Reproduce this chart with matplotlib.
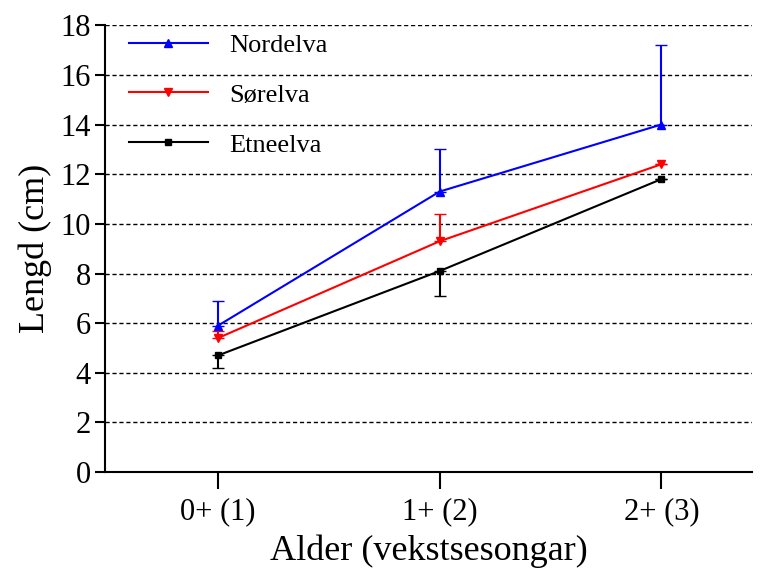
import matplotlib
matplotlib.use('Agg')
import matplotlib.pyplot as plt

plt.rcParams['font.family'] = ['Liberation Serif', 'DejaVu Serif']

ages = ['0+ (1)', '1+ (2)', '2+ (3)']
nordelva = [5.9, 11.3, 14.0]
nordelva_err = [1.0, 1.7, 3.2]
sorelva = [5.4, 9.3, 12.4]
sorelva_err = [0.3, 1.1, 0.0]
etneelva = [4.7, 8.1, 11.8]
etneelva_err = [0.5, 1.0, 0.0]

fig = plt.figure(figsize=(7.66, 5.73), dpi=100)
ax = fig.add_axes([0.137, 0.176, 0.845, 0.78])
x = range(len(ages))

ax.errorbar(x, nordelva, yerr=[[0] * 3, nordelva_err], color='#0000ff', marker='^',
            ms=6, lw=1.5, capsize=4, label='Nordelva')
ax.errorbar(x, sorelva, yerr=[[0] * 3, sorelva_err], color='#ff0000', marker='v',
            ms=6, lw=1.5, capsize=4, label='Sørelva')
ax.errorbar(x, etneelva, yerr=[etneelva_err, [0] * 3], color='black', marker='s',
            ms=5, lw=1.5, capsize=4, label='Etneelva')

for y in range(2, 19, 2):
    ax.axhline(y, color='black', ls='--', lw=1, dashes=(3, 2), zorder=0)

ax.set_xlim(-0.51, 2.41)
ax.set_ylim(0, 18)
ax.set_yticks(range(0, 19, 2))
ax.set_xticks(list(x))
ax.set_xticklabels(ages)
ax.tick_params(labelsize=22, width=1.5)
ax.tick_params(axis='y', length=7, pad=3)
ax.tick_params(axis='x', length=12, pad=6)
ax.spines['top'].set_visible(False)
ax.spines['right'].set_visible(False)
ax.spines['left'].set_linewidth(1.5)
ax.spines['bottom'].set_linewidth(1.5)
ax.set_xlabel('Alder (vekstsesongar)', fontsize=26, labelpad=6)
ax.set_ylabel('Lengd (cm)', fontsize=26, labelpad=6)

h, l = ax.get_legend_handles_labels()
h = [hh[0] for hh in h]
ax.legend(h, l, loc='upper left', frameon=False, fontsize=19, handlelength=3.0,
          labelspacing=1.0, bbox_to_anchor=(0.0, 1.035))

fig.savefig('out.png', dpi=100)
